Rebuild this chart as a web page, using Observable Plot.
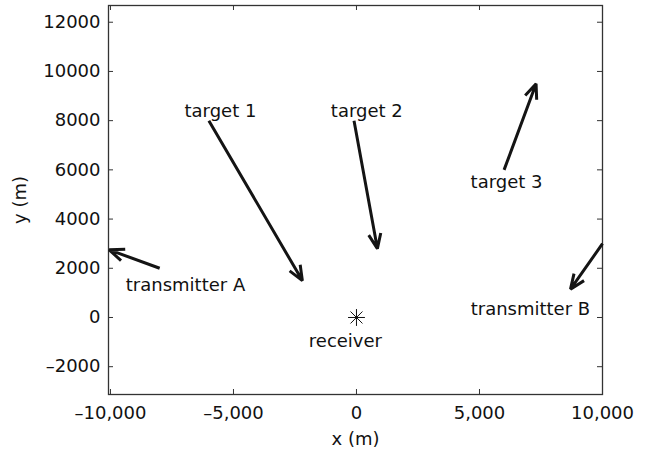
<!DOCTYPE html>
<html>
<head>
<meta charset="utf-8">
<script src="https://cdn.jsdelivr.net/npm/d3@7"></script>
<script src="https://cdn.jsdelivr.net/npm/@observablehq/plot@0.6"></script>
<style>
  html, body { margin: 0; padding: 0; background: #fff; }
  #chart svg { display: block; }
</style>
</head>
<body>
<div id="chart"></div>
<script>
// Arrows (start -> end), metres
const arrowNames = ["target 1", "target 2", "target 3", "transmitter A", "transmitter B"];
const arrowX1 = [-6000, -100, 6000, -8000, 10000];
const arrowY1 = [8000, 8000, 6000, 2000, 3000];
const arrowX2 = [-2200, 850, 7300, -10050, 8700];
const arrowY2 = [1500, 2800, 9500, 2750, 1150];

// Receiver
const receiverX = [0];
const receiverY = [0];

// Text labels
const labelText = ["target 1", "target 2", "target 3", "transmitter A", "transmitter B", "receiver"];
const labelX = [-5530, 420, 6100, -6950, 7070, -450];
const labelY = [8390, 8390, 5500, 1330, 350, -950];

// Ticks
const xTicks = [-10000, -5000, 0, 5000, 10000];
const yTicks = [-2000, 0, 2000, 4000, 6000, 8000, 10000, 12000];

const arrows = arrowNames.map((n, i) => ({name: n, x1: arrowX1[i], y1: arrowY1[i], x2: arrowX2[i], y2: arrowY2[i]}));
const labels = labelText.map((t, i) => ({text: t, x: labelX[i], y: labelY[i]}));
const receiver = receiverX.map((x, i) => ({x, y: receiverY[i]}));

const W = 652, H = 454;
const mL = 108, mR = 50, mT = 5, mB = 60;
const innerH = H - mT - mB, innerW = W - mL - mR;
const ink = "#141414";
const axisInk = "#333";

const chart = Plot.plot({
  width: W,
  height: H,
  marginLeft: mL,
  marginRight: mR,
  marginTop: mT,
  marginBottom: mB,
  style: {fontFamily: "DejaVu Sans", fontSize: "18px", color: "#111", background: "#fff"},
  x: {domain: [-10080, 10000]},
  y: {domain: [-3130, 12680]},
  marks: [
    // inward ticks
    Plot.tickX(xTicks, {x: d => d, insetTop: innerH - 5, stroke: axisInk, strokeWidth: 1}),
    Plot.tickX(xTicks, {x: d => d, insetBottom: innerH - 5, stroke: axisInk, strokeWidth: 1}),
    Plot.tickY(yTicks, {y: d => d, insetRight: innerW - 5, stroke: axisInk, strokeWidth: 1}),
    Plot.tickY(yTicks, {y: d => d, insetLeft: innerW - 5, stroke: axisInk, strokeWidth: 1}),
    Plot.axisX({
      ticks: xTicks, tickSize: 0, tickPadding: 12,
      tickFormat: d => d3.format(",")(d).replace("−", "–"),
      label: "x (m)", labelAnchor: "center", labelArrow: "none", labelOffset: 50,
      fontSize: 18, fill: "#111"
    }),
    Plot.axisY({
      ticks: yTicks, tickSize: 0, tickPadding: 8,
      tickFormat: d => d3.format("d")(d).replace("−", "–"),
      label: "y (m)", labelAnchor: "center", labelArrow: "none", labelOffset: 95,
      fontSize: 18, fill: "#111"
    }),
    Plot.frame({stroke: axisInk, strokeWidth: 1.3}),
    Plot.arrow(arrows, {
      x1: "x1", y1: "y1", x2: "x2", y2: "y2",
      stroke: ink, strokeWidth: 3, headLength: 8, headAngle: 45, strokeLinecap: "butt"
    }),
    Plot.dot(receiver, {x: "x", y: "y", symbol: "plus", r: 5.5, stroke: ink, strokeWidth: 1}),
    Plot.dot(receiver, {x: "x", y: "y", symbol: "times", r: 5.5, stroke: ink, strokeWidth: 1}),
    Plot.text(labels, {x: "x", y: "y", text: "text", fill: "#111", fontSize: 18, fontFamily: "DejaVu Sans"})
  ]
});
document.getElementById("chart").appendChild(chart);
</script>
</body>
</html>
